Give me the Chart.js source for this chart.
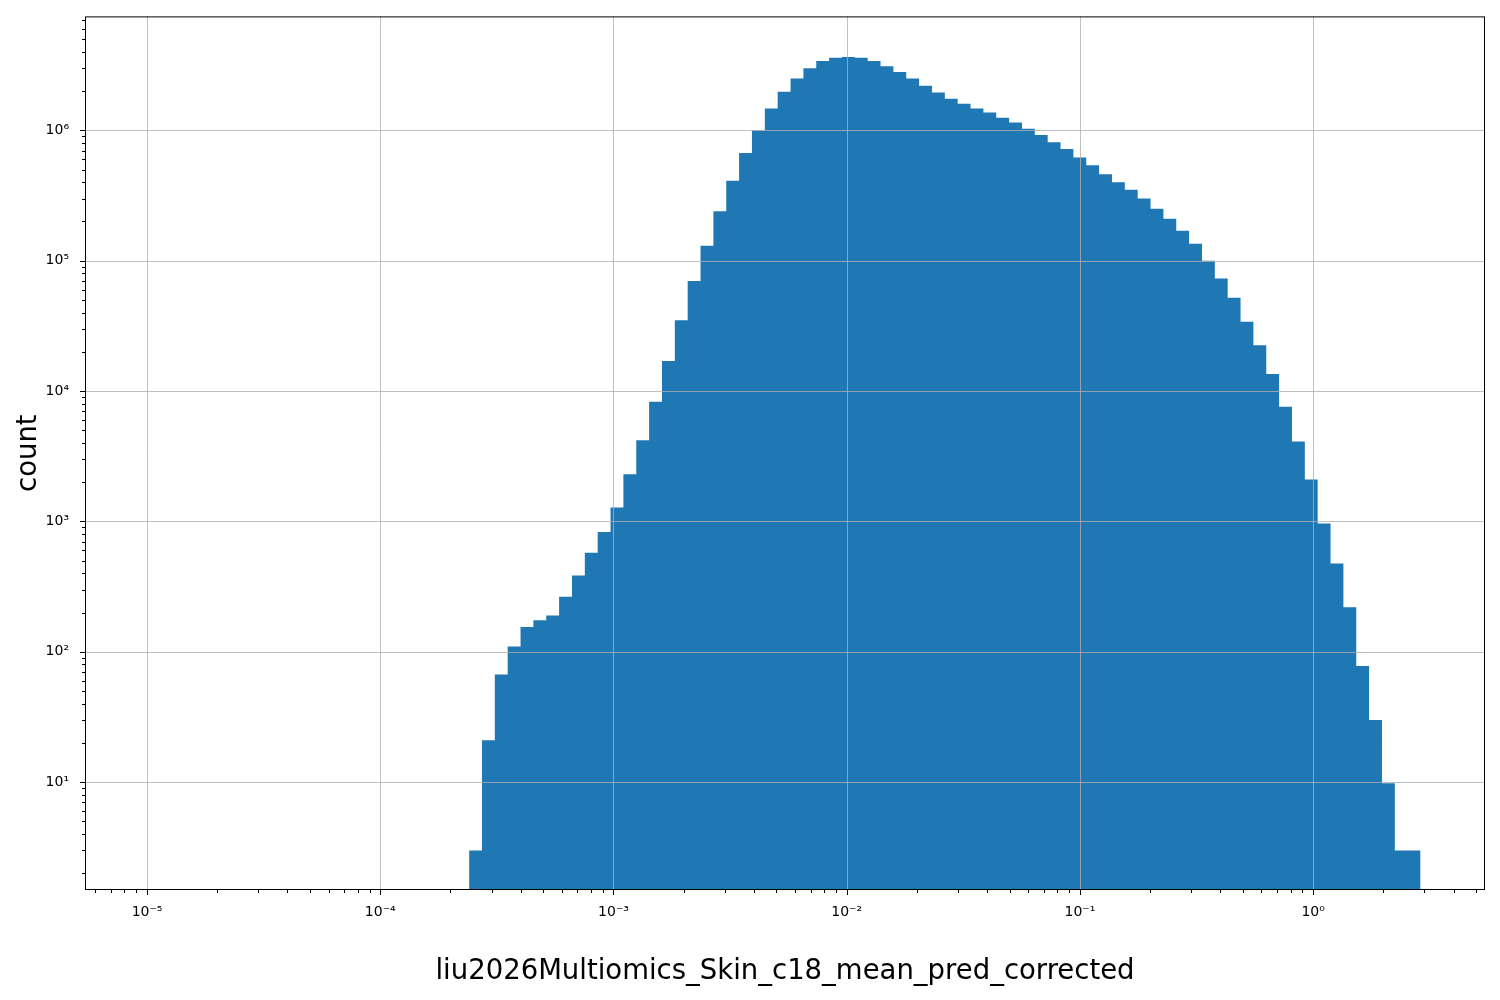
<!DOCTYPE html>
<html><head><meta charset="utf-8">
<script src="https://cdn.jsdelivr.net/npm/chart.js@4/dist/chart.umd.min.js"></script>
<style>html,body{margin:0;padding:0;background:#fff}</style>
</head><body>
<canvas id="c" width="1500" height="1000" style="width:1500px;height:1000px"></canvas>
<script>
// Histogram: log10 of first bin edge, bin width in decades, counts per bin
const firstEdgeLog = -3.619;
const binWidthLog = 0.05513;
const counts = [3,21,67,110,155,175,190,265,385,575,830,1280,2300,4200,8300,17000,35000,70000,
 130000,240000,410000,670000,1000000,1470000,1980000,2500000,3000000,3400000,3600000,3650000,
 3600000,3400000,3100000,2800000,2500000,2200000,1950000,1750000,1600000,1470000,1370000,1250000,
 1150000,1030000,920000,810000,720000,620000,540000,460000,400000,350000,300000,250000,210000,
 170000,135000,100000,73000,52000,34000,22500,13500,7600,4100,2100,966,475,220,78,30,9.8,3,3];
const xTitle = 'liu2026Multiomics_Skin_c18_mean_pred_corrected';
const yTitle = 'count';
const decadesX = [-5,-4,-3,-2,-1,0];
const decadesY = [1,2,3,4,5,6];

const pts = [{x:Math.pow(10, firstEdgeLog), y:counts[0]}];
counts.forEach((c,i)=>pts.push({x:Math.pow(10, firstEdgeLog + (i+1)*binWidthLog), y:c}));

const sup = {'-':'⁻','0':'⁰','1':'¹','2':'²','3':'³','4':'⁴','5':'⁵','6':'⁶','7':'⁷','8':'⁸','9':'⁹'};
const fmt = e => '10' + String(e).split('').map(ch=>sup[ch]).join('');
const isDec = v => Math.abs(Math.log10(v) - Math.round(Math.log10(v))) < 1e-9;

const overlay = {
  id:'overlay',
  afterDatasetsDraw(chart){
    const ctx = chart.ctx, a = chart.chartArea, xs = chart.scales.x, ys = chart.scales.y;
    ctx.save();
    ctx.strokeStyle = '#b0b0b0'; ctx.lineWidth = 0.8;
    decadesX.forEach(e=>{const px=Math.round(xs.getPixelForValue(Math.pow(10,e)))+0.5;
      ctx.beginPath(); ctx.moveTo(px,a.top); ctx.lineTo(px,a.bottom); ctx.stroke();});
    decadesY.forEach(e=>{const py=Math.round(ys.getPixelForValue(Math.pow(10,e)))+0.5;
      ctx.beginPath(); ctx.moveTo(a.left,py); ctx.lineTo(a.right,py); ctx.stroke();});
    ctx.strokeStyle = '#000'; ctx.lineWidth = 1;
    for(let e=-6;e<=1;e++) for(let m=1;m<10;m++){
      const v=m*Math.pow(10,e); if(v<xs.min||v>xs.max) continue;
      const px=Math.round(xs.getPixelForValue(v))+0.5, L=m===1?5:3;
      ctx.beginPath(); ctx.moveTo(px,a.bottom); ctx.lineTo(px,a.bottom+L); ctx.stroke();}
    for(let e=0;e<=7;e++) for(let m=1;m<10;m++){
      const v=m*Math.pow(10,e); if(v<ys.min||v>ys.max) continue;
      const py=Math.round(ys.getPixelForValue(v))+0.5, L=m===1?5:3;
      ctx.beginPath(); ctx.moveTo(a.left,py); ctx.lineTo(a.left-L,py); ctx.stroke();}
    ctx.strokeRect(a.left+0.5,a.top+0.5,a.right-a.left-1,a.bottom-a.top-1);
    ctx.restore();
  }
};

new Chart(document.getElementById('c'),{
  type:'line',
  data:{datasets:[{data:pts, stepped:'after', fill:'start', backgroundColor:'#1f77b4',
    borderColor:'#1f77b4', borderWidth:0, pointRadius:0}]},
  options:{
    responsive:false, animation:false,
    layout:{padding:{left:0,right:15,top:11,bottom:0}},
    plugins:{legend:{display:false}, tooltip:{enabled:false}},
    scales:{
      x:{type:'logarithmic', min:Math.pow(10,-5.266), max:Math.pow(10,0.737),
        grid:{display:false}, border:{display:false},
        ticks:{autoSkip:false, maxRotation:0, padding:6, color:'#000', font:{family:'DejaVu Sans',size:14},
          callback:v=>isDec(v)?fmt(Math.round(Math.log10(v))):''},
        afterFit:s=>{s.height=110;},
        title:{display:true,text:xTitle,color:'#000',font:{family:'DejaVu Sans',size:27.5},padding:{top:14,bottom:12}}},
      y:{type:'logarithmic', min:1.49, max:Math.pow(10,6.874),
        grid:{display:false}, border:{display:false},
        ticks:{autoSkip:false, padding:8, color:'#000', font:{family:'DejaVu Sans',size:14},
          callback:v=>isDec(v)?fmt(Math.round(Math.log10(v))):''},
        afterFit:s=>{s.width=85;},
        title:{display:true,text:yTitle,color:'#000',font:{family:'DejaVu Sans',size:27.5},padding:{top:12,bottom:0}}}
    }
  },
  plugins:[overlay]
});
</script>
</body></html>
